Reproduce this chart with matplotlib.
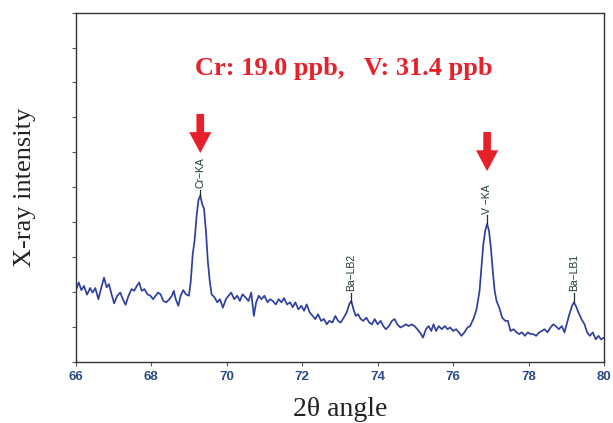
import matplotlib
matplotlib.use("Agg")
import matplotlib.pyplot as plt
from matplotlib.patches import FancyArrowPatch

# spectrum (2-theta in degrees, intensity in tick units)
two_theta = [
    66.00, 66.08, 66.15, 66.22, 66.30, 66.38, 66.45, 66.52, 66.60, 66.68,
    66.75, 66.82, 66.88, 66.95, 67.02, 67.10, 67.18, 67.25, 67.32, 67.40,
    67.48, 67.55, 67.62, 67.68, 67.75, 67.82, 67.90, 67.98, 68.05, 68.12,
    68.18, 68.25, 68.32, 68.40, 68.48, 68.55, 68.60, 68.65, 68.72, 68.78,
    68.85, 68.92, 69.00, 69.05, 69.10, 69.15, 69.20, 69.25, 69.30, 69.35,
    69.40, 69.45, 69.50, 69.55, 69.60, 69.68, 69.75, 69.82, 69.90, 69.98,
    70.05, 70.12, 70.20, 70.28, 70.35, 70.42, 70.50, 70.58, 70.65, 70.72,
    70.78, 70.85, 70.92, 71.00, 71.08, 71.15, 71.22, 71.30, 71.38, 71.45,
    71.52, 71.60, 71.68, 71.75, 71.82, 71.90, 71.98, 72.05, 72.12, 72.20,
    72.28, 72.35, 72.42, 72.50, 72.58, 72.65, 72.72, 72.80, 72.88, 72.95,
    73.02, 73.10, 73.18, 73.25, 73.30, 73.36, 73.42, 73.48, 73.55, 73.62,
    73.70, 73.78, 73.85, 73.92, 74.00, 74.08, 74.15, 74.22, 74.30, 74.38,
    74.45, 74.52, 74.60, 74.68, 74.75, 74.82, 74.90, 74.98, 75.05, 75.12,
    75.20, 75.28, 75.35, 75.42, 75.48, 75.55, 75.62, 75.70, 75.78, 75.85,
    75.92, 76.00, 76.08, 76.15, 76.22, 76.30, 76.38, 76.45, 76.55, 76.62,
    76.70, 76.75, 76.80, 76.85, 76.90, 76.95, 77.00, 77.05, 77.10, 77.15,
    77.22, 77.30, 77.38, 77.45, 77.52, 77.60, 77.68, 77.75, 77.82, 77.90,
    77.98, 78.05, 78.12, 78.20, 78.28, 78.35, 78.42, 78.50, 78.58, 78.65,
    78.72, 78.80, 78.88, 78.95, 79.02, 79.08, 79.15, 79.20, 79.25, 79.32,
    79.40, 79.48, 79.55, 79.62, 79.70, 79.78, 79.85, 79.92, 80.00,
]
intensity = [
    2.03, 2.27, 2.05, 2.17, 1.92, 2.11, 1.98, 2.11, 1.79, 2.13,
    2.41, 2.13, 2.22, 1.93, 1.67, 1.89, 1.98, 1.79, 1.63, 1.89,
    2.08, 2.03, 2.17, 2.27, 2.03, 2.08, 1.93, 1.89, 1.79, 1.89,
    1.98, 1.93, 1.74, 1.70, 1.79, 1.89, 2.03, 1.79, 1.60, 1.89,
    2.05, 1.93, 1.89, 2.32, 3.08, 3.47, 4.14, 4.62, 4.76, 4.52,
    4.38, 3.75, 2.89, 2.32, 1.93, 1.84, 1.70, 1.79, 1.55, 1.79,
    1.89, 1.98, 1.79, 1.89, 1.74, 1.93, 1.84, 1.74, 1.98, 1.31,
    1.70, 1.89, 1.79, 1.89, 1.70, 1.79, 1.74, 1.64, 1.79, 1.70,
    1.82, 1.64, 1.70, 1.56, 1.70, 1.50, 1.60, 1.46, 1.64, 1.41,
    1.31, 1.22, 1.36, 1.17, 1.22, 1.07, 1.17, 1.12, 1.31, 1.17,
    1.12, 1.26, 1.41, 1.65, 1.74, 1.50, 1.31, 1.36, 1.22, 1.17,
    1.26, 1.12, 1.07, 1.22, 1.07, 1.17, 1.02, 0.93, 1.02, 1.17,
    1.22, 1.07, 0.98, 1.02, 1.07, 1.02, 1.07, 1.02, 0.93, 0.84,
    0.69, 0.93, 1.02, 0.88, 1.07, 0.88, 1.02, 0.93, 1.02, 0.93,
    0.98, 0.88, 0.93, 0.84, 0.74, 0.84, 0.98, 1.02, 1.26, 1.50,
    2.03, 2.70, 3.37, 3.75, 3.95, 3.75, 3.26, 2.61, 2.03, 1.74,
    1.55, 1.26, 1.17, 1.17, 0.88, 0.93, 0.84, 0.79, 0.84, 0.74,
    0.84, 0.79, 0.79, 0.74, 0.84, 0.88, 0.93, 0.84, 0.98, 1.07,
    1.02, 0.93, 1.02, 0.84, 1.12, 1.36, 1.60, 1.70, 1.60, 1.41,
    1.22, 1.07, 0.84, 0.74, 0.84, 0.64, 0.74, 0.64, 0.69,
]

# peak markers: name, position, top of marker line
peak_names = ["Cr\u2212KA", "Ba\u2212LB2", "V \u2212KA", "Ba\u2212LB1"]
peak_pos = [69.30, 73.30, 76.90, 79.20]
peak_base = [4.74, 1.72, 3.97, 1.70]
peak_top = [4.92, 1.98, 4.19, 1.98]

# red arrows over the two quantified peaks
arrow_pos = [69.30, 76.90]
arrow_from = [7.10, 6.58]
arrow_to = [5.98, 5.46]

x_ticks = [66, 68, 70, 72, 74, 76, 78, 80]

fig = plt.figure(figsize=(6.13, 4.23), dpi=100)
ax = fig.add_axes([0.1235, 0.145, 0.862, 0.825])

ax.plot(two_theta, intensity, color="#2f3f9f", linewidth=1.25)

for name, x, y0, y1 in zip(peak_names, peak_pos, peak_base, peak_top):
    ax.plot([x, x], [y0, y1], color="#1e3326", linewidth=0.9)
    ax.text(x, y1 + 0.05, name, rotation=90, ha="center", va="bottom",
            fontsize=7.5, color="#1e3a2c", family="Liberation Sans")

for x, y0, y1 in zip(arrow_pos, arrow_from, arrow_to):
    ax.add_patch(FancyArrowPatch(
        (x, y0), (x, y1),
        arrowstyle="simple,head_length=1.5,head_width=1.6,tail_width=0.55",
        mutation_scale=10, color="#e8202a", linewidth=0,
        shrinkA=0, shrinkB=0))

ax.text(73.1, 8.4, "Cr: 19.0 ppb,   V: 31.4 ppb", ha="center", va="center",
        fontsize=19, fontweight="bold", color="#e8202a", family="Liberation Serif")

ax.set_xlim(66, 80)
ax.set_ylim(0, 10)
ax.set_xticks(x_ticks)
ax.set_yticks(range(0, 11))
ax.set_yticklabels([])
ax.tick_params(axis="both", direction="out", length=3, width=0.8, color="#555555")
for lbl in ax.get_xticklabels():
    lbl.set_fontsize(9.5)
    lbl.set_fontweight("bold")
    lbl.set_color("#2a4a8a")
    lbl.set_family("Liberation Sans")

for side in ["left", "bottom", "top", "right"]:
    ax.spines[side].set_color("#333333")
    ax.spines[side].set_linewidth(1.0)

ax.set_ylabel("X-ray intensity", fontsize=19, family="Liberation Serif",
              color="#222222", labelpad=22)
ax.set_xlabel("2\u03b8 angle", fontsize=20, family="Liberation Serif",
              color="#222222", labelpad=10)

fig.savefig("out.png", dpi=100)
